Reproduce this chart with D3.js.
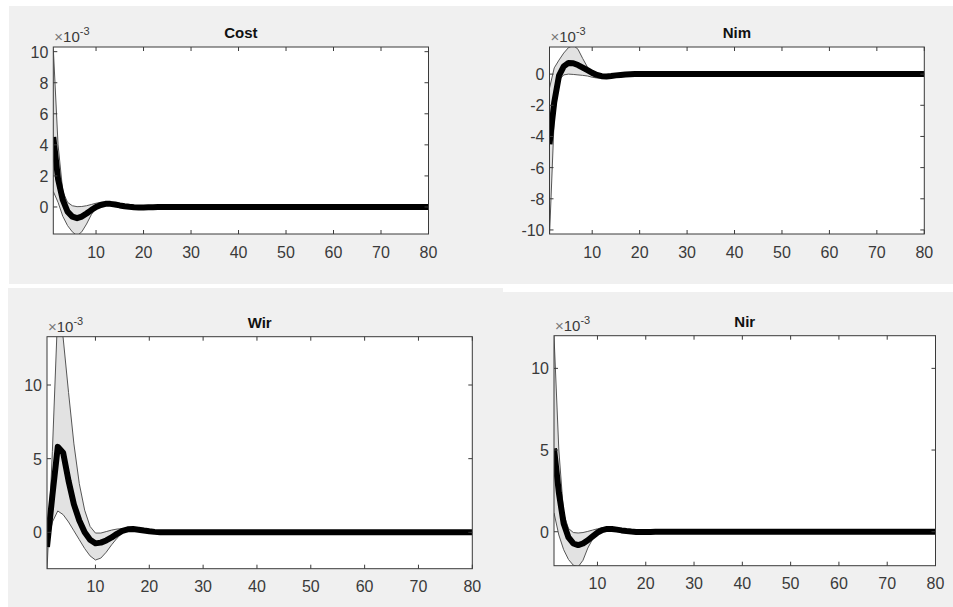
<!DOCTYPE html>
<html><head><meta charset="utf-8">
<script src="https://cdn.jsdelivr.net/npm/d3@7"></script>
<style>body{margin:0;background:#fff;} svg{display:block;}</style>
</head><body>
<svg id="c" width="953" height="607"></svg>
<script>
// ---------- data (values in units of 1e-3) ----------
const titles = ["Cost", "Nim", "Wir", "Nir"];
const horizon = d3.range(1, 81);
const xTickValues = [10, 20, 30, 40, 50, 60, 70, 80];

const costMean = [4.5,1.8,0.45,-0.3,-0.62,-0.72,-0.62,-0.42,-0.2,0.0,
  0.13,0.2,0.2,0.16,0.1,0.05,0.01,-0.02,-0.03,-0.03,
  -0.02,-0.01,0,0,0,0,0,0,0,0, 0,0,0,0,0,0,0,0,0,0,
  0,0,0,0,0,0,0,0,0,0, 0,0,0,0,0,0,0,0,0,0, 0,0,0,0,0,0,0,0,0,0, 0,0,0,0,0,0,0,0,0,0];
const costUpper = [10.2,4.0,1.0,0.3,0.08,0.02,0.03,0.08,0.16,0.24,
  0.3,0.32,0.3,0.25,0.18,0.12,0.07,0.04,0.02,0.02,
  0.02,0.02,0.02,0.01,0.01,0.01,0,0,0,0, 0,0,0,0,0,0,0,0,0,0,
  0,0,0,0,0,0,0,0,0,0, 0,0,0,0,0,0,0,0,0,0, 0,0,0,0,0,0,0,0,0,0, 0,0,0,0,0,0,0,0,0,0];
const costLower = [1.0,0.3,-0.6,-1.2,-1.6,-1.85,-1.6,-1.1,-0.5,-0.05,
  0.05,0.1,0.1,0.08,0.04,0.0,-0.03,-0.05,-0.05,-0.04,
  -0.03,-0.02,-0.01,0,0,0,0,0,0,0, 0,0,0,0,0,0,0,0,0,0,
  0,0,0,0,0,0,0,0,0,0, 0,0,0,0,0,0,0,0,0,0, 0,0,0,0,0,0,0,0,0,0, 0,0,0,0,0,0,0,0,0,0];

const nimMean = [-4.5,-1.8,-0.1,0.5,0.72,0.7,0.58,0.42,0.25,0.08,
  -0.05,-0.13,-0.15,-0.12,-0.08,-0.05,-0.02,-0.01,0,0,
  0,0,0,0,0,0,0,0,0,0, 0,0,0,0,0,0,0,0,0,0,
  0,0,0,0,0,0,0,0,0,0, 0,0,0,0,0,0,0,0,0,0, 0,0,0,0,0,0,0,0,0,0, 0,0,0,0,0,0,0,0,0,0];
const nimUpper = [-0.9,0.4,0.9,1.35,1.7,1.85,1.6,1.0,0.45,0.1,
  -0.03,-0.06,-0.05,-0.03,0,0.02,0.02,0.02,0.01,0.01,
  0,0,0,0,0,0,0,0,0,0, 0,0,0,0,0,0,0,0,0,0,
  0,0,0,0,0,0,0,0,0,0, 0,0,0,0,0,0,0,0,0,0, 0,0,0,0,0,0,0,0,0,0, 0,0,0,0,0,0,0,0,0,0];
const nimLower = [-10.4,-2.8,-0.4,-0.05,0.0,-0.02,-0.05,-0.08,-0.12,-0.2,
  -0.25,-0.27,-0.25,-0.2,-0.14,-0.09,-0.05,-0.03,-0.01,0,
  0,0,0,0,0,0,0,0,0,0, 0,0,0,0,0,0,0,0,0,0,
  0,0,0,0,0,0,0,0,0,0, 0,0,0,0,0,0,0,0,0,0, 0,0,0,0,0,0,0,0,0,0, 0,0,0,0,0,0,0,0,0,0];

const wirMean = [-1.0,2.5,5.8,5.4,3.5,1.9,0.8,0.0,-0.5,-0.75,
  -0.7,-0.55,-0.35,-0.1,0.1,0.2,0.22,0.18,0.12,0.07,
  0.03,0.01,0,0,0,0,0,0,0,0, 0,0,0,0,0,0,0,0,0,0,
  0,0,0,0,0,0,0,0,0,0, 0,0,0,0,0,0,0,0,0,0, 0,0,0,0,0,0,0,0,0,0, 0,0,0,0,0,0,0,0,0,0];
const wirUpper = [-2.6,5.5,15.0,13.2,9.5,6.0,3.3,1.5,0.4,-0.05,
  -0.05,0.05,0.15,0.22,0.25,0.25,0.22,0.17,0.12,0.08,
  0.05,0.03,0.02,0.01,0,0,0,0,0,0, 0,0,0,0,0,0,0,0,0,0,
  0,0,0,0,0,0,0,0,0,0, 0,0,0,0,0,0,0,0,0,0, 0,0,0,0,0,0,0,0,0,0, 0,0,0,0,0,0,0,0,0,0];
const wirLower = [-1.0,0.7,1.45,1.2,0.7,0.1,-0.5,-1.1,-1.6,-1.88,
  -1.75,-1.35,-0.85,-0.4,-0.05,0.12,0.18,0.15,0.1,0.06,
  0.03,0.01,0,0,0,0,0,0,0,0, 0,0,0,0,0,0,0,0,0,0,
  0,0,0,0,0,0,0,0,0,0, 0,0,0,0,0,0,0,0,0,0, 0,0,0,0,0,0,0,0,0,0, 0,0,0,0,0,0,0,0,0,0];

const nirMean = [5.1,2.4,0.5,-0.35,-0.72,-0.82,-0.72,-0.52,-0.28,-0.05,
  0.1,0.17,0.17,0.13,0.08,0.04,0.01,-0.01,-0.02,-0.02,
  -0.01,0,0,0,0,0,0,0,0,0, 0,0,0,0,0,0,0,0,0,0,
  0,0,0,0,0,0,0,0,0,0, 0,0,0,0,0,0,0,0,0,0, 0,0,0,0,0,0,0,0,0,0, 0,0,0,0,0,0,0,0,0,0];
const nirUpper = [12.0,5.0,1.1,0.2,-0.05,-0.08,-0.05,0.02,0.1,0.18,
  0.25,0.28,0.27,0.22,0.15,0.1,0.05,0.03,0.02,0.01,
  0,0,0,0,0,0,0,0,0,0, 0,0,0,0,0,0,0,0,0,0,
  0,0,0,0,0,0,0,0,0,0, 0,0,0,0,0,0,0,0,0,0, 0,0,0,0,0,0,0,0,0,0, 0,0,0,0,0,0,0,0,0,0];
const nirLower = [1.15,-0.2,-1.1,-1.7,-2.05,-2.15,-1.75,-1.0,-0.45,-0.08,
  0.05,0.1,0.1,0.07,0.03,0,-0.02,-0.03,-0.03,-0.02,
  -0.01,0,0,0,0,0,0,0,0,0, 0,0,0,0,0,0,0,0,0,0,
  0,0,0,0,0,0,0,0,0,0, 0,0,0,0,0,0,0,0,0,0, 0,0,0,0,0,0,0,0,0,0, 0,0,0,0,0,0,0,0,0,0];

const costYTicks = [0, 2, 4, 6, 8, 10];
const nimYTicks = [-10, -8, -6, -4, -2, 0];
const wirYTicks = [0, 5, 10];
const nirYTicks = [0, 5, 10];

const costYLim = [-1.74, 10.3];
const nimYLim = [-10.26, 1.74];
const wirYLim = [-2.47, 13.28];
const nirYLim = [-2.08, 12.0];
const xLim = [1, 80];

// ---------- layout ----------
const svg = d3.select("#c");
const grey = "#f0f0f0";
svg.append("rect").attr("x", 9).attr("y", 6).attr("width", 944).attr("height", 278).attr("fill", grey);
svg.append("rect").attr("x", 8).attr("y", 288).attr("width", 495).attr("height", 319).attr("fill", grey);
svg.append("rect").attr("x", 503).attr("y", 292).attr("width", 450).attr("height", 315).attr("fill", grey);

const panels = [
  {title: titles[0], mean: costMean, up: costUpper, lo: costLower, ticks: costYTicks, ylim: costYLim,
   box: {l: 53.3, r: 428.5, t: 47, b: 234}},
  {title: titles[1], mean: nimMean, up: nimUpper, lo: nimLower, ticks: nimYTicks, ylim: nimYLim,
   box: {l: 549.5, r: 924.3, t: 47, b: 234}},
  {title: titles[2], mean: wirMean, up: wirUpper, lo: wirLower, ticks: wirYTicks, ylim: wirYLim,
   box: {l: 47, r: 472.3, t: 336.7, b: 568.7}},
  {title: titles[3], mean: nirMean, up: nirUpper, lo: nirLower, ticks: nirYTicks, ylim: nirYLim,
   box: {l: 554, r: 935.5, t: 335.7, b: 565.7}}
];

const font = "'Liberation Sans', Arial, Helvetica, sans-serif";
const txt = "#3a3a3a";
const axc = "#3a3a3a";
const tickLen = 4;

panels.forEach((p, i) => {
  const B = p.box;
  const x = d3.scaleLinear().domain(xLim).range([B.l, B.r]);
  const y = d3.scaleLinear().domain(p.ylim).range([B.b, B.t]);
  const g = svg.append("g");

  g.append("rect").attr("x", B.l).attr("y", B.t).attr("width", B.r - B.l).attr("height", B.b - B.t)
    .attr("fill", "#fff");

  const cid = "clip" + i;
  svg.append("clipPath").attr("id", cid).append("rect")
    .attr("x", B.l).attr("y", B.t).attr("width", B.r - B.l).attr("height", B.b - B.t);

  const data = horizon.map((h, k) => ({h, m: p.mean[k], u: p.up[k], l: p.lo[k]}));
  const plot = g.append("g").attr("clip-path", `url(#${cid})`);

  plot.append("path").datum(data)
    .attr("d", d3.area().x(d => x(d.h)).y0(d => y(d.l)).y1(d => y(d.u)))
    .attr("fill", "#e2e2e2").attr("stroke", "none");
  ["u", "l"].forEach(key => {
    plot.append("path").datum(data)
      .attr("d", d3.line().x(d => x(d.h)).y(d => y(d[key])))
      .attr("fill", "none").attr("stroke", "#555").attr("stroke-width", 1);
  });
  plot.append("path").datum(data)
    .attr("d", d3.line().x(d => x(d.h)).y(d => y(d.m)))
    .attr("fill", "none").attr("stroke", "#000").attr("stroke-width", 6)
    .attr("stroke-linejoin", "round");

  // box
  g.append("rect").attr("x", B.l).attr("y", B.t).attr("width", B.r - B.l).attr("height", B.b - B.t)
    .attr("fill", "none").attr("stroke", axc).attr("stroke-width", 1);

  // x ticks (bottom & top, inward)
  xTickValues.forEach(v => {
    const xx = x(v);
    g.append("line").attr("x1", xx).attr("x2", xx).attr("y1", B.b).attr("y2", B.b - tickLen)
      .attr("stroke", axc);
    g.append("line").attr("x1", xx).attr("x2", xx).attr("y1", B.t).attr("y2", B.t + tickLen)
      .attr("stroke", axc);
    g.append("text").attr("x", xx).attr("y", B.b + 23.5).attr("text-anchor", "middle")
      .attr("font-family", font).attr("font-size", 16).attr("fill", txt).text(v);
  });
  // y ticks (left & right, inward)
  p.ticks.forEach(v => {
    const yy = y(v);
    g.append("line").attr("x1", B.l).attr("x2", B.l + tickLen).attr("y1", yy).attr("y2", yy)
      .attr("stroke", axc);
    g.append("line").attr("x1", B.r).attr("x2", B.r - tickLen).attr("y1", yy).attr("y2", yy)
      .attr("stroke", axc);
    g.append("text").attr("x", B.l - 5).attr("y", yy + 6).attr("text-anchor", "end")
      .attr("font-family", font).attr("font-size", 16).attr("fill", txt).text(v);
  });

  // title
  g.append("text").attr("x", (B.l + B.r) / 2).attr("y", B.t - 9).attr("text-anchor", "middle")
    .attr("font-family", font).attr("font-size", 15).attr("font-weight", "bold").attr("fill", "#111")
    .text(p.title);

  // exponent label
  const ex = g.append("text").attr("x", B.l + 1).attr("y", B.t - 5)
    .attr("font-family", font).attr("font-size", 15).attr("fill", txt);
  ex.append("tspan").attr("fill", "#777").text("\u00d7");
  ex.append("tspan").text("10");
  ex.append("tspan").attr("font-size", 11).attr("dy", -7).text("-3");
});
</script>
</body></html>
